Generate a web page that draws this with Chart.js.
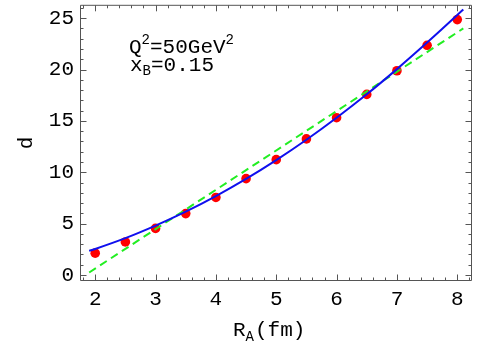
<!DOCTYPE html>
<html>
<head>
<meta charset="utf-8">
<script src="https://cdn.jsdelivr.net/npm/chart.js@4"></script>
<style>
  html, body { margin: 0; padding: 0; background: #fff; }
  #c { display: block; }
</style>
</head>
<body>
<canvas id="c" width="486" height="347"></canvas>
<script>
// ---- data ----
const radii = [2, 2.5, 3, 3.5, 4, 4.5, 5, 5.5, 6, 6.5, 7, 7.5, 8];
const dPoints = [2.13, 3.22, 4.54, 5.98, 7.55, 9.38, 11.23, 13.25, 15.31, 17.58, 19.88, 22.36, 24.86];
const fitRadii = [1.9, 2, 2.5, 3, 3.5, 4, 4.5, 5, 5.5, 6, 6.5, 7, 7.5, 8, 8.1];
const fitD = [2.35, 2.54, 3.59, 4.81, 6.17, 7.69, 9.36, 11.19, 13.17, 15.31, 17.59, 20.04, 22.62, 25.3, 25.85];
const lineRadii = [1.9, 8.1];
const lineD = [0.25, 24.0];
const xTicks = [2, 3, 4, 5, 6, 7, 8];
const yTicks = [0, 5, 10, 15, 20, 25];
const xMinorStep = 0.2;
const yMinorStep = 1;

const FONT = "'Liberation Mono', 'DejaVu Sans Mono', monospace";
const frameColor = '#555555';

function pts(xs, ys) { return xs.map((x, i) => ({ x: x, y: ys[i] })); }

const framePlugin = {
  id: 'frameTicks',
  afterDraw(chart) {
    const ctx = chart.ctx, a = chart.chartArea;
    const xs = chart.scales.x, ys = chart.scales.y;
    const L = a.left + 0.5, R = a.right - 0.5, T = a.top + 0.5, B = a.bottom - 0.5;
    ctx.save();
    ctx.strokeStyle = frameColor;
    ctx.lineWidth = 1;
    ctx.beginPath();
    ctx.rect(L, T, R - L, B - T);
    ctx.stroke();
    const major = 6, minor = 3;
    ctx.beginPath();
    const x0 = Math.ceil(xs.min / xMinorStep), x1 = Math.floor(xs.max / xMinorStep);
    for (let k = x0; k <= x1; k++) {
      const v = k * xMinorStep;
      const isMajor = Math.abs(v - Math.round(v)) < 1e-6;
      const len = isMajor ? major : minor;
      const px = Math.round(xs.getPixelForValue(v)) + 0.5;
      ctx.moveTo(px, B); ctx.lineTo(px, B - len);
      ctx.moveTo(px, T); ctx.lineTo(px, T + len);
    }
    const y0 = Math.ceil(ys.min / yMinorStep), y1 = Math.floor(ys.max / yMinorStep);
    for (let k = y0; k <= y1; k++) {
      const v = k * yMinorStep;
      const isMajor = v % 5 === 0;
      const len = isMajor ? major : minor;
      const py = Math.round(ys.getPixelForValue(v)) + 0.5;
      ctx.moveTo(L, py); ctx.lineTo(L + len, py);
      ctx.moveTo(R, py); ctx.lineTo(R - len, py);
    }
    ctx.stroke();

    // x axis title with subscript: R_A (fm)
    ctx.fillStyle = '#000';
    ctx.textBaseline = 'alphabetic';
    ctx.textAlign = 'left';
    let x = 233, y = 336;
    ctx.font = '21px ' + FONT;
    ctx.fillText('R', x, y); x += ctx.measureText('R').width;
    ctx.font = '14px ' + FONT;
    ctx.fillText('A', x, y + 5); x += ctx.measureText('A').width + 1;
    ctx.font = '21px ' + FONT;
    ctx.fillText('(fm)', x, y);

    // annotation
    x = 129; y = 53;
    ctx.font = '21px ' + FONT;
    ctx.fillText('Q', x, y); x += ctx.measureText('Q').width;
    ctx.font = '14px ' + FONT;
    ctx.fillText('2', x, y - 9); x += ctx.measureText('2').width;
    ctx.font = '21px ' + FONT;
    ctx.fillText('=50GeV', x, y); x += ctx.measureText('=50GeV').width;
    ctx.font = '14px ' + FONT;
    ctx.fillText('2', x, y - 9);

    x = 130; y = 71;
    ctx.font = '21px ' + FONT;
    ctx.fillText('x', x, y); x += ctx.measureText('x').width;
    ctx.font = '14px ' + FONT;
    ctx.fillText('B', x, y + 4); x += ctx.measureText('B').width;
    ctx.font = '21px ' + FONT;
    ctx.fillText('=0.15', x, y);
    ctx.restore();
  }
};

new Chart(document.getElementById('c'), {
  type: 'scatter',
  data: {
    datasets: [
      {
        label: 'fit',
        data: pts(fitRadii, fitD),
        showLine: true,
        borderColor: '#1010ee',
        borderWidth: 2,
        pointRadius: 0,
        cubicInterpolationMode: 'monotone',
        fill: false
      },
      {
        label: 'linear',
        data: pts(lineRadii, lineD),
        showLine: true,
        borderColor: '#22ee22',
        borderWidth: 2,
        borderDash: [8, 5],
        pointRadius: 0,
        fill: false
      },
      {
        label: 'd',
        data: pts(radii, dPoints),
        showLine: false,
        pointRadius: 4.8,
        pointBackgroundColor: '#ff0000',
        pointBorderWidth: 0,
        borderColor: '#ff0000'
      }
    ]
  },
  options: {
    responsive: false,
    animation: false,
    devicePixelRatio: 1,
    layout: { padding: { top: 1, right: 14, left: 0, bottom: 0 } },
    plugins: { legend: { display: false }, tooltip: { enabled: false } },
    scales: {
      x: {
        type: 'linear',
        min: 1.748,
        max: 8.244,
        afterBuildTicks: s => { s.ticks = xTicks.map(v => ({ value: v })); },
        afterFit: s => { s.height = 66; s.paddingLeft = 0; s.paddingRight = 0; },
        grid: { display: false, drawTicks: false },
        border: { display: false },
        ticks: { color: '#000', font: { family: FONT, size: 21 }, padding: 6, maxRotation: 0, autoSkip: false }
      },
      y: {
        type: 'linear',
        min: -0.58,
        max: 26.3,
        afterBuildTicks: s => { s.ticks = yTicks.map(v => ({ value: v })); },
        afterFit: s => { s.width = 80; s.paddingTop = 0; s.paddingBottom = 0; },
        grid: { display: false, drawTicks: false },
        border: { display: false },
        ticks: { color: '#000', font: { family: FONT, size: 21 }, padding: 6, autoSkip: false },
        title: { display: true, text: 'd', color: '#000', font: { family: FONT, size: 21 }, padding: { top: 14, bottom: 0 } }
      }
    }
  },
  plugins: [framePlugin]
});
</script>
</body>
</html>
